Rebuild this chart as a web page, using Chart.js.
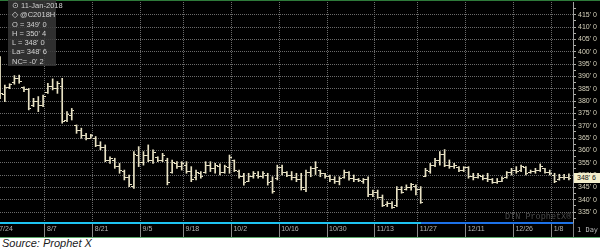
<!DOCTYPE html>
<html><head><meta charset="utf-8">
<script src="https://cdn.jsdelivr.net/npm/chart.js@4/dist/chart.umd.min.js"></script>
<style>
html,body{margin:0;padding:0;background:#fff;width:600px;height:251px;overflow:hidden;}
#wrap{position:absolute;left:0;top:0;width:600px;height:237px;background:#000;}
#c{position:absolute;left:0;top:0;}
.abs{position:absolute;}
#topline{left:0;top:0;width:600px;height:1px;background:#2e7a3a;}
#botline{left:0;top:237px;width:600px;height:1px;background:#5aa86a;}
#blue{left:421px;top:222px;width:152px;height:2px;background:#1d72e8;}
#sep{left:573px;top:223px;width:1px;height:14px;background:#808080;}
#info{left:8px;top:0;width:48px;height:66px;background:rgba(55,55,55,0.85);color:#d2d2d2;font:7.5px "Liberation Sans",Arial,sans-serif;line-height:9.3px;padding:1px 0 0 4px;box-sizing:border-box;white-space:nowrap;}
#last{left:574px;width:26px;height:10px;background:#f3eecb;color:#111;font:7px "Liberation Sans",Arial,sans-serif;line-height:10px;padding-left:3px;box-sizing:border-box;}
#day{left:577px;top:226px;color:#bbb;font:7px "DejaVu Sans Mono",monospace;}
#wm{left:505px;top:212px;color:#4a4a4a;font:8.5px "Liberation Mono","DejaVu Sans Mono",monospace;}
#src{left:2px;top:237px;color:#1a1a1a;font:italic 11px "Liberation Sans",Arial,sans-serif;}
</style></head>
<body>
<div id="wrap">
<canvas id="c" width="600" height="237"></canvas>
<div class="abs" id="topline"></div>
<div class="abs" id="blue"></div>
<div class="abs" id="sep"></div>
<div class="abs" id="wm">DTN ProphetX®</div>
<div class="abs" id="day">1 Day</div>
<div class="abs" id="info">
<div>&#8857; 11-Jan-2018</div>
<div>&#9671; @C2018H</div>
<div>O = 349' 0</div>
<div>H = 350' 4</div>
<div>L = 348' 0</div>
<div>La= 348' 6</div>
<div>NC= -0' 2</div>
</div>
<div class="abs" id="last">348' 6</div>
</div>
<div class="abs" id="botline"></div>
<div class="abs" id="src">Source: Prophet X</div>
<script>
// Daily OHLC, trading day index 0 = 7/24/2017 ... 119 = 1/11/2018
const opens = [396,382.5,385.5,387.5,389,385.5,384.5,378,380,378,
383.5,386,385,386,372,374,370,368,366,365,
365,362,361,356,356,353.5,351.5,349,345.5,358,
355,358,356,357,356,356,351,354.5,353.5,354,
351.5,349,350.5,351,354,352.5,353.5,351,353,356,
351.5,349.5,347.5,349.5,350,349.5,350,347.5,348.5,353,
351,350,349,348,344,351,352.5,352,350.5,349.5,
348,347.5,349,351,348.5,348,347.5,348,342,343,
341,338,338.5,337.5,344,344,345,345.5,344,349.5,
351.5,354,356,358.5,354,353.5,353,352,353,349.5,
349,349.5,348.5,348,347,347.5,349,351,352,352,
353,351,351.5,352,352.5,351,350,348,349,349];
const highs = [398,386.5,387,390.3,390.5,385.8,385.1,381.1,381.8,382.4,
387.2,389,387.9,389.2,375.7,377,370.3,369,366.9,366.5,
365.6,363.5,362.2,357.4,356.8,354.7,352,350,359.5,361.5,
359.5,362.2,360.2,357.4,358.8,356.8,356.1,355.4,355.4,355.4,
353.4,352,351.4,355.4,355.4,354.7,354.5,354,358.1,356.1,
352,350.7,350.7,351.4,351.4,351.4,350.7,349.3,354,354,
351.4,351.4,350.7,350.7,352,353.4,355.4,352,350.7,350,
349.3,349.3,352,351.4,350,348.6,348.6,349.3,343.9,343.9,
341.9,339.2,339.2,345.3,345.3,346,346.6,346,345.3,352.7,
354.7,356.8,359.5,360.3,356.1,354.7,353.4,353.4,353.4,350.7,
350.7,350,350.7,348.6,348.6,349.3,351.4,352.7,353.4,354,
353.4,352,352.7,354.5,352.7,352,350.7,350.3,350.3,350.5];
const lows = [381,379.7,385,386.8,387.2,383.8,376.4,377.7,375.7,377.7,
383.1,384.5,383.1,371,371.6,372.3,366.9,364.9,364.2,364.9,
361.5,360.2,355.4,354.7,352.7,350.7,348,345.3,344.6,353.4,
354,355.4,354.7,355.4,355.4,346,350.7,352.7,352,350.7,
347.3,348,348.7,350.7,351.4,350.7,350,350.7,350.7,351.4,
348.7,345.9,347.3,348.7,348.7,348.7,345.9,342.6,348,350,
349.3,348,347.3,343.9,343.2,349.3,350.2,349.3,348.7,347.3,
346.6,346,348.7,347.9,347.3,347.3,346.6,341.2,341.2,340.5,
337.2,337.2,336.5,337.2,342.6,343.9,343.9,341.9,338.5,349.3,
350.7,353.4,354,353.4,352.7,352.7,351.4,351.4,348.7,348,
348.7,348,347.3,346.6,346.6,347.3,348.7,350,350.7,351.4,
350,350.7,350.7,351.4,350.7,350,346.9,347.9,348.2,348];
const closes = [383,385.5,386.5,389,388,384.5,377,380,378,382,
386,385,387,371.5,374.5,376,368,366,365,366,
362,361,356,356.5,353.5,352,349,346,358.5,355,
358,356,359,356,358,347,355,353.5,354.5,351.5,
348,351,349.5,354,352.5,354,351,353.5,357,352,
349.5,347,349.5,350.5,349.5,350.5,347,343.5,353,351,
350,349,348,345,351,352.5,353,350.5,349.5,348,
347.5,348.5,351,348.5,348,347.8,348,342,343,341,
337.8,338.5,337,344,343,345,346,344,339,352,
354,356,358.5,354,353.5,354,352,353,349.5,349,
350,348.5,348,347,347.5,348.5,351,352,351.5,353.5,
350.5,351.5,352,353.5,351,350.5,347.5,349,349,348.75];
// date axis: trading-day index of each labelled date
const tickDays = [0,10,20,30,39,49,59,69,79,88,98,108,116];
const tickLabels = ['7/24','8/7','8/21','9/5','9/18','10/2','10/16','10/30','11/13','11/27','12/11','12/26','1/8'];
const priceTicks = [332.5,335,337.5,340,342.5,345,347.5,350,352.5,355,357.5,360,362.5,365,367.5,370,372.5,375,377.5,380,382.5,385,387.5,390,392.5,395,397.5,400,402.5,405,407.5,410,412.5,415,417.5];

const barCol = '#e8e2c4';
function tickImg(side){
  const c = document.createElement('canvas'); c.width = 5; c.height = 1;
  const g = c.getContext('2d'); g.fillStyle = barCol;
  if (side === 'l') g.fillRect(0,0,2,1); else g.fillRect(3,0,2,1);
  return c;
}
const pos = opens.map((_, i) => i + 0.6);
const fmtPrice = v => { const w = Math.floor(v); const e = Math.round((v - w) * 8); return w + "' " + e; };
const gridCol = '#6a6a6a';

const chart = new Chart(document.getElementById('c'), {
  type: 'bar',
  data: { datasets: [
    { type:'bar', data: pos.map((x,i)=>({x, y:[lows[i], highs[i]]})), backgroundColor: barCol, barThickness: 1, borderWidth: 0, grouped: false, order: 1 },
    { type:'scatter', data: pos.map((x,i)=>({x, y: opens[i]})), pointStyle: tickImg('l'), pointRadius: 1, pointHoverRadius: 0, pointBorderWidth: 0, order: 0 },
    { type:'scatter', data: pos.map((x,i)=>({x, y: closes[i]})), pointStyle: tickImg('r'), pointRadius: 1, pointHoverRadius: 0, pointBorderWidth: 0, order: 0 }
  ]},
  options: {
    responsive: false, animation: false, events: [],
    layout: { autoPadding: false, padding: { top: 2, left: 0, right: 0, bottom: 0 } },
    plugins: { legend: { display: false }, tooltip: { enabled: false } },
    scales: {
      x: {
        type: 'linear', min: 0.586, max: 120.46, offset: false,
        afterBuildTicks: s => { s.ticks = tickDays.map(v => ({ value: v })); },
        afterFit: s => { s.height = 14; s.paddingLeft = 0; s.paddingRight = 0; },
        grid: { offset: false, color: gridCol, lineWidth: 1, tickColor: '#8a8a8a', tickLength: 14, tickBorderDash: [] },
        border: { display: true, color: '#1ec4f2', width: 2, dash: [1, 1] },
        ticks: { autoSkip: false, maxRotation: 0, minRotation: 0, align: 'start', padding: -12, labelOffset: 2,
          color: '#b4b4b4', font: { family: 'Liberation Sans', size: 7 },
          callback: v => { const k = tickDays.indexOf(v); return k >= 0 ? tickLabels[k] : ''; } }
      },
      y: {
        position: 'right', min: 330.54, max: 420.15,
        afterBuildTicks: s => { s.ticks = priceTicks.map(v => ({ value: v })); },
        afterFit: s => { s.width = 27; s.paddingTop = 0; s.paddingBottom = 0; },
        grid: { color: c => (c.tick && c.tick.value % 5 === 0) ? gridCol : 'rgba(0,0,0,0)', lineWidth: 1, tickColor: '#b0b0a8', tickLength: 3, tickBorderDash: [] },
        border: { display: true, color: '#a0a0a0', width: 1, dash: [1, 1] },
        ticks: { autoSkip: false, padding: 2, color: '#d6d2bc', font: { family: 'Liberation Sans', size: 7 },
          callback: v => (v % 5 === 0) ? fmtPrice(v) : '' }
      }
    }
  }
});
const ly = chart.scales.y.getPixelForValue(closes[closes.length - 1]);
const lastEl = document.getElementById('last');
lastEl.style.top = (ly - 5) + 'px';
lastEl.textContent = fmtPrice(closes[closes.length - 1]);
</script>
</body></html>
